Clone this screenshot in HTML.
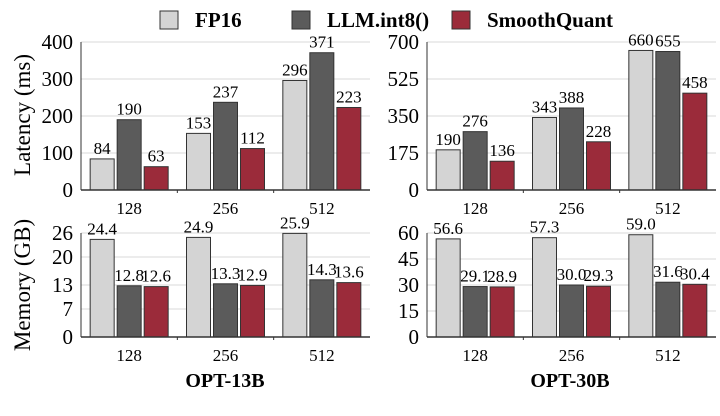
<!DOCTYPE html>
<html><head><meta charset="utf-8"><style>
body{margin:0;background:#fff}
svg{display:block}
svg text{font-family:"Liberation Serif","Times New Roman",Times,serif}
</style></head><body>
<svg id="c" width="720" height="416" viewBox="0 0 720 416"></svg>
<script>
const categories=["128","256","512"];
const seriesNames=["FP16","LLM.int8()","SmoothQuant"];
const colors=["#d4d4d4","#5b5b5b","#9b2b3a"];
const lat13Fp16=[84,153,296], lat13Int8=[190,237,371], lat13Sq=[63,112,223];
const lat30Fp16=[190,343,660], lat30Int8=[276,388,655], lat30Sq=[136,228,458];
const mem13Fp16=[24.4,24.9,25.9], mem13Int8=[12.8,13.3,14.3], mem13Sq=[12.6,12.9,13.6];
const mem30Fp16=[56.6,57.3,59.0], mem30Int8=[29.1,30.0,31.6], mem30Sq=[28.9,29.3,30.4];
const ticksLat13=[0,100,200,300,400], ticksLat30=[0,175,350,525,700];
const ticksMem13=[0,7,13,20,26], ticksMem30=[0,15,30,45,60];
const fmtLat=v=>String(v), fmtMem=v=>v.toFixed(1);

const svg=document.getElementById('c');
const NS='http://www.w3.org/2000/svg';
function mk(tag,attrs,text){const e=document.createElementNS(NS,tag);for(const k in attrs)e.setAttribute(k,attrs[k]);if(text!==undefined)e.textContent=text;svg.appendChild(e);return e;}

function panel(name,x0,x1,yBase,yTop,ymax,ticks,series,fmt){
  const y=v=>yBase-(v/ymax)*(yBase-yTop);
  ticks.forEach(t=>{
    if(t>0){const g=mk('line',{x1:x0,x2:x1,y1:y(t),y2:y(t),stroke:'#d8d8d8','stroke-width':1});
    }
    const l=mk('text',{x:x0-8,y:y(t)+7,'text-anchor':'end','font-size':21},String(t));
    
  });
  const groupW=(x1-x0)/categories.length;
  const bw=24, gap=3;
  categories.forEach((c,i)=>{
    const gx=x0+groupW*i+groupW/2;
    series.forEach((s,j)=>{
      const bx=gx+(j-1)*(bw+gap)-bw/2;
      const v=s[i];
      const r=mk('rect',{x:bx,y:y(v),width:bw,height:yBase-y(v),fill:colors[j],stroke:'#333','stroke-width':1});
      
      const t=mk('text',{x:bx+bw/2,y:y(v)-5,'text-anchor':'middle','font-size':17},fmt(v));
      
    });
    const xl=mk('text',{x:gx,y:yBase+24,'text-anchor':'middle','font-size':17},c);
    
    if(i>0){const tk=mk('line',{x1:x0+groupW*i,x2:x0+groupW*i,y1:yBase,y2:yBase+3,stroke:'#333'});
      }
  });
  const ax=mk('line',{x1:x0,x2:x1,y1:yBase,y2:yBase,stroke:'#333','stroke-width':1.5});
  
  const ay=mk('line',{x1:x0,x2:x0,y1:yTop,y2:yBase,stroke:'#333','stroke-width':1});
  
}
panel('latency-13b',81,370,190,42,400,ticksLat13,[lat13Fp16,lat13Int8,lat13Sq],fmtLat);
panel('latency-30b',427,716,190,42,700,ticksLat30,[lat30Fp16,lat30Int8,lat30Sq],fmtLat);
panel('memory-13b',81,370,337,233,26,ticksMem13,[mem13Fp16,mem13Int8,mem13Sq],fmtMem);
panel('memory-30b',427,716,337,233,60,ticksMem30,[mem30Fp16,mem30Int8,mem30Sq],fmtMem);

let a=mk('text',{x:0,y:0,transform:'translate(30,115) rotate(-90)','text-anchor':'middle','font-size':23},'Latency (ms)');

a=mk('text',{x:0,y:0,transform:'translate(30,285) rotate(-90)','text-anchor':'middle','font-size':23},'Memory (GB)');

a=mk('text',{x:225,y:387,'text-anchor':'middle','font-size':20,'font-weight':'bold'},'OPT-13B');

a=mk('text',{x:570,y:387,'text-anchor':'middle','font-size':20,'font-weight':'bold'},'OPT-30B');


const legX=[160,292,452];
seriesNames.forEach((n,j)=>{
  const r=mk('rect',{x:legX[j],y:11,width:18,height:18,fill:colors[j],stroke:'#333','stroke-width':1});
  
  const t=mk('text',{x:legX[j]+35,y:27,'font-size':21,'font-weight':'bold'},n);
  
});
</script>
</body></html>
